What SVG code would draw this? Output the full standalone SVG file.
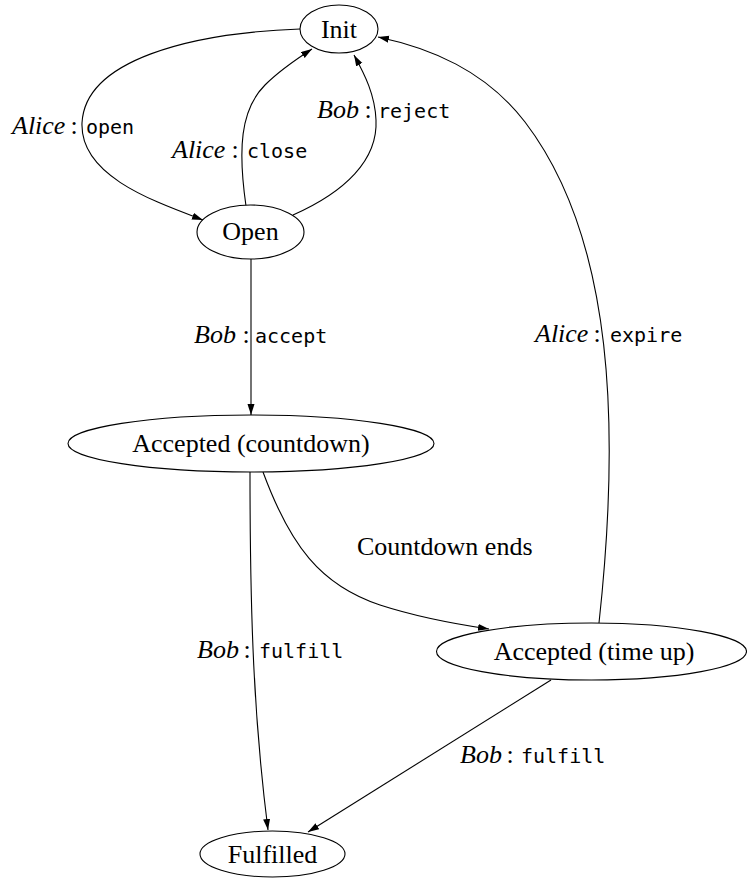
<svg xmlns="http://www.w3.org/2000/svg" width="747" height="878" viewBox="0 0 747 878">
<defs>
<style>
.node ellipse{fill:#fff;stroke:#000;stroke-width:1.1}
.node text{font-size:26px;text-anchor:middle;fill:#000}
.edge{fill:none;stroke:#000;stroke-width:1.1;marker-end:url(#arr)}
.lbl{font-size:26px;fill:#000}
.it{font-style:italic}
.tt{font-size:20px}
</style>
<marker id="arr" markerUnits="userSpaceOnUse" markerWidth="12" markerHeight="8" refX="11" refY="3.5" orient="auto">
<path d="M0,0 L11,3.5 L0,7 z" fill="#000"/>
</marker>
</defs>
<rect width="747" height="878" fill="#fff"/>
<g id="connectors" font-family="'Liberation Serif','Times New Roman','DejaVu Serif',serif">
<path class="edge" d="M300,29 C190,33 85,60 82,123 C80,175 150,200 203,220"/>
<path class="edge" d="M246,206 C238,150 240,110 265,85 C280,70 295,60 312,49"/>
<path class="edge" d="M293,215 C345,192 378,160 376,120 C375,95 365,75 354,55"/>
<path class="edge" d="M251,259 L251,415"/>
<path class="edge" d="M599,623 C620,430 615,240 525,122 C485,70 430,48 378,37"/>
<path class="edge" d="M263,472 C290,545 320,585 380,605 C420,618 455,624 489,629"/>
<path class="edge" d="M250,472 C250,620 254,720 268,830"/>
<path class="edge" d="M551,680 L308,832"/>
<text class="lbl"><tspan class="it" x="12" y="134">Alice</tspan><tspan x="70.5" y="134">:</tspan><tspan class="tt" font-family="'DejaVu Sans Mono',monospace" x="86" y="134">open</tspan></text>
<text class="lbl"><tspan class="it" x="172" y="158">Alice</tspan><tspan x="231.5" y="158">:</tspan><tspan class="tt" font-family="'DejaVu Sans Mono',monospace" x="247" y="158">close</tspan></text>
<text class="lbl"><tspan class="it" x="317" y="118">Bob</tspan><tspan x="364.5" y="118">:</tspan><tspan class="tt" font-family="'DejaVu Sans Mono',monospace" x="378" y="118">reject</tspan></text>
<text class="lbl"><tspan class="it" x="194" y="343">Bob</tspan><tspan x="242.5" y="343">:</tspan><tspan class="tt" font-family="'DejaVu Sans Mono',monospace" x="255" y="343">accept</tspan></text>
<text class="lbl"><tspan class="it" x="535" y="342">Alice</tspan><tspan x="593.5" y="342">:</tspan><tspan class="tt" font-family="'DejaVu Sans Mono',monospace" x="610" y="342">expire</tspan></text>
<text class="lbl"><tspan class="it" x="197" y="658">Bob</tspan><tspan x="243.5" y="658">:</tspan><tspan class="tt" font-family="'DejaVu Sans Mono',monospace" x="259" y="658">fulfill</tspan></text>
<text class="lbl"><tspan class="it" x="460" y="763">Bob</tspan><tspan x="506.5" y="763">:</tspan><tspan class="tt" font-family="'DejaVu Sans Mono',monospace" x="521" y="763">fulfill</tspan></text>
<text class="lbl" x="357" y="555">Countdown ends</text>
</g>
<g font-family="'Liberation Serif','Times New Roman','DejaVu Serif',serif">
<g id="init" class="node"><ellipse cx="339" cy="29" rx="39" ry="24"/><text x="339" y="38">Init</text></g>
<g id="open" class="node"><ellipse cx="250.5" cy="232" rx="53.5" ry="27"/><text x="250.5" y="240">Open</text></g>
<g id="accepted-countdown" class="node"><ellipse cx="251" cy="443.5" rx="183" ry="28.5"/><text x="251" y="452">Accepted (countdown)</text></g>
<g id="accepted-timeup" class="node"><ellipse cx="591.5" cy="651.5" rx="155" ry="28.5"/><text x="594" y="660">Accepted (time up)</text></g>
<g id="fulfilled" class="node"><ellipse cx="272.5" cy="854" rx="72.5" ry="23"/><text x="272.5" y="863">Fulfilled</text></g>
</g>
</svg>
